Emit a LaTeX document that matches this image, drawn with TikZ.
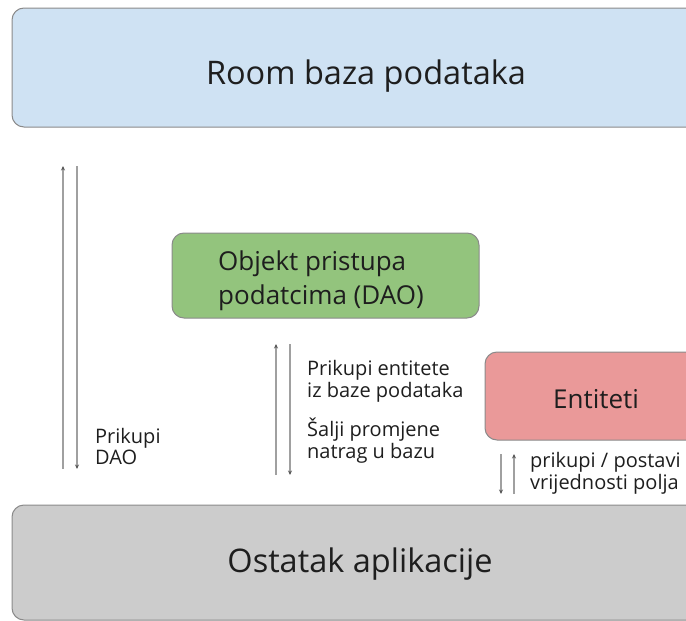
\documentclass[tikz,border=0pt]{standalone}
\usepackage{fontspec}
\setmainfont{Open Sans}
\usetikzlibrary{arrows.meta}
\definecolor{dbfill}{HTML}{CFE2F3}
\definecolor{daofill}{HTML}{93C47D}
\definecolor{entfill}{HTML}{EA9999}
\definecolor{appfill}{HTML}{CCCCCC}
\definecolor{edge}{HTML}{8A8A8A}
\definecolor{txt}{HTML}{1E1E1E}
\definecolor{arr}{HTML}{A0A0A0}
\definecolor{tipc}{HTML}{555555}
\tikzset{
  box/.style={draw=edge, line width=1pt, rounded corners=12pt, inner sep=0pt, text=txt},
  bigtxt/.style={font=\fontsize{32.5}{38}\selectfont, text=txt, anchor=base, inner sep=0pt},
  midtxt/.style={font=\fontsize{26}{32}\selectfont, text=txt, inner sep=0pt},
  smalltxt/.style={font=\fontsize{20}{24}\selectfont, text=txt, anchor=base west, inner sep=0pt},
  flow/.style={draw=arr, line width=1.8pt, -{Stealth[length=4.5pt,width=4pt,color=tipc]}},
}
\begin{document}
\begin{tikzpicture}[x=1pt,y=-1pt]
\useasboundingbox (0,0) rectangle (686,621);
\node[box, fill=dbfill, minimum width=708pt, minimum height=119pt] (db) at (366,67.5) {};
\node[bigtxt] (dbt) at (366,84) {Room baza podataka};
\node[box, fill=appfill, minimum width=708pt, minimum height=115pt] (app) at (366,562.5) {};
\node[bigtxt] (appt) at (360,572) {Ostatak aplikacije};
\node[box, fill=daofill, minimum width=307pt, minimum height=85pt] (dao) at (325.5,275.5) {};
\node[midtxt, anchor=base west] (daot1) at (218,270) {Objekt pristupa};
\node[midtxt, anchor=base west] (daot2) at (218,304) {podatcima (DAO)};
\node[box, fill=entfill, minimum width=226pt, minimum height=88pt] (ent) at (598,396) {};
\node[midtxt, anchor=base] (entt) at (596,408) {Entiteti};
% left arrows
\coordinate (la1) at (63,469);
\coordinate (lb1) at (63,166);
\coordinate (la2) at (77,166);
\coordinate (lb2) at (77,469);
\draw[flow] (la1) -- (lb1);
\draw[flow] (la2) -- (lb2);
\node[smalltxt] (ldao1) at (95,443) {Prikupi};
\node[smalltxt] (ldao2) at (95,464) {DAO};
% middle arrows
\coordinate (ma1) at (276,475);
\coordinate (mb1) at (276,344);
\coordinate (ma2) at (290,344);
\coordinate (mb2) at (290,475);
\draw[flow] (ma1) -- (mb1);
\draw[flow] (ma2) -- (mb2);
\node[smalltxt] (mt1) at (307,375) {Prikupi entitete};
\node[smalltxt] (mt2) at (307,397) {iz baze podataka};
\node[smalltxt] (mt3) at (307,436) {Šalji promjene};
\node[smalltxt] (mt4) at (307,458) {natrag u bazu};
% right arrows
\coordinate (ra1) at (501,454);
\coordinate (rb1) at (501,494);
\coordinate (ra2) at (514,494);
\coordinate (rb2) at (514,454);
\draw[flow] (ra1) -- (rb1);
\draw[flow] (ra2) -- (rb2);
\node[smalltxt] (rt1) at (530,467) {prikupi / postavi};
\node[smalltxt] (rt2) at (530,489) {vrijednosti polja};
\end{tikzpicture}
\end{document}
